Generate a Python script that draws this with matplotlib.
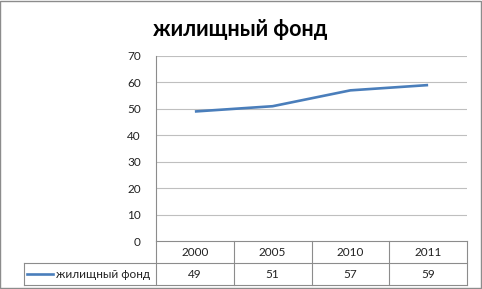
import matplotlib.pyplot as plt
from matplotlib.patches import Rectangle

plt.rcParams['font.family'] = ['Lato', 'DejaVu Sans']

title = "жилищный фонд"
series_name = "жилищный фонд"
years = ["2000", "2005", "2010", "2011"]
values = [49, 51, 57, 59]
y_ticks = [0, 10, 20, 30, 40, 50, 60, 70]

line_color = "#4A7EBB"
grid_color = "#BFBFBF"
table_color = "#8C8C8C"
text_color = "#222222"
fs = 8.5

W, H = 482, 289
fig = plt.figure(figsize=(W / 100, H / 100), dpi=100)

# plot area in pixels
px_left, px_right, px_top, px_bottom = 156, 467, 56, 241
ax = fig.add_axes([px_left / W, 1 - px_bottom / H,
                   (px_right - px_left) / W, (px_bottom - px_top) / H])

xs = list(range(len(years)))
ax.plot(xs, values, color=line_color, lw=1.9, solid_joinstyle='round',
        solid_capstyle='butt')
ax.set_xlim(-0.5, len(years) - 0.5)
ax.set_ylim(0, 70)
ax.set_yticks(y_ticks)
ax.set_yticklabels([str(t) for t in y_ticks], fontsize=fs, color=text_color)
ax.tick_params(axis='y', length=0, pad=11)
ax.set_xticks([])
for t in y_ticks[1:]:
    ax.axhline(t, color=grid_color, lw=0.8, zorder=0)
for s in ["top", "right", "bottom"]:
    ax.spines[s].set_visible(False)
ax.spines["left"].set_color(table_color)
ax.spines["left"].set_linewidth(0.8)

fig.text(240 / W, 1 - 29 / H, title,
         fontsize=15.5, fontweight='bold', ha='center', va='center')

# data table below the plot area (figure pixel coords)
def fx(x):
    return x / W


def fy(y):
    return 1 - y / H


row1, row2, row3 = 241, 263, 285
legend_left = 24
col_w = (px_right - px_left) / len(years)
kw = dict(color=table_color, lw=0.8, transform=fig.transFigure)
# horizontal lines
fig.add_artist(plt.Line2D([fx(px_left), fx(px_right)], [fy(row1)] * 2, **kw))
fig.add_artist(plt.Line2D([fx(legend_left), fx(px_right)], [fy(row2)] * 2, **kw))
fig.add_artist(plt.Line2D([fx(legend_left), fx(px_right)], [fy(row3)] * 2, **kw))
# vertical lines
fig.add_artist(plt.Line2D([fx(px_left)] * 2, [fy(row1), fy(row3)], **kw))
fig.add_artist(plt.Line2D([fx(legend_left)] * 2, [fy(row2), fy(row3)], **kw))
for i in range(1, len(years) + 1):
    x = px_left + i * col_w
    fig.add_artist(plt.Line2D([fx(x)] * 2, [fy(row1), fy(row3)], **kw))

for i, (yr, v) in enumerate(zip(years, values)):
    cx = px_left + (i + 0.5) * col_w
    fig.text(fx(cx), fy((row1 + row2) / 2), yr, fontsize=fs,
             ha='center', va='center', color=text_color)
    fig.text(fx(cx), fy((row2 + row3) / 2), str(v), fontsize=fs,
             ha='center', va='center', color=text_color)

# legend key
fig.add_artist(plt.Line2D([fx(27), fx(53)], [fy(274)] * 2, color=line_color,
                          lw=1.9, transform=fig.transFigure))
fig.text(fx(56), fy(274), series_name, fontsize=fs, ha='left', va='center',
         color=text_color)

# outer chart border
fig.add_artist(Rectangle((0.001, 0.002), 0.997, 0.995, fill=False,
                         edgecolor="#8C8C8C", lw=1.0,
                         transform=fig.transFigure))

fig.savefig("out.png", dpi=100)
